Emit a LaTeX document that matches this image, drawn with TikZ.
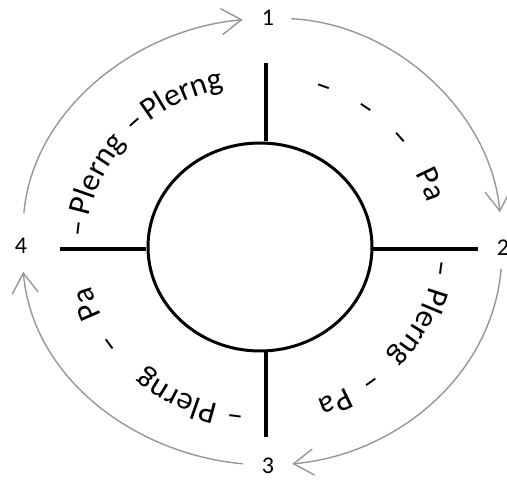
\documentclass[tikz,border=0pt]{standalone}
\usepackage{fontspec}
\setmainfont{Carlito}
\usetikzlibrary{arrows.meta, shapes.geometric, decorations.text}
\definecolor{cyclegray}{RGB}{150,150,150}
\newcommand{\ringfont}{\fontsize{32}{36}\selectfont}
\newcommand{\numfont}{\fontsize{24}{28}\selectfont}

\begin{document}
\begin{tikzpicture}[
  x=1pt, y=1pt,
  num/.style={inner sep=1pt, font=\numfont},
  hubstyle/.style={draw, ellipse, line width=3pt, minimum width=224, minimum height=208},
  spoke/.style={line width=3.5pt},
  cyclearrow/.style={draw=cyclegray, line width=1.4pt, -{Straight Barb[length=20pt, width=26pt]}},
  ringword/.style={decorate, decoration={text along path, text align=center, text/.expanded={|\noexpand\ringfont|#1}}}
]
\useasboundingbox (-262,-236) rectangle (245,248);

\node[hubstyle] (hub) at (-2,1) {};
\coordinate (ntip) at (4,185);
\coordinate (stip) at (4,-189);
\coordinate (wtip) at (-202,-1);
\coordinate (etip) at (216,-1);
\draw[spoke] (ntip |- hub.north) -- (ntip);
\draw[spoke] (stip |- hub.south) -- (stip);
\draw[spoke] (hub.west |- wtip) -- (wtip);
\draw[spoke] (hub.east |- etip) -- (etip);

\node[num] (one) at (6,230.5) {1};
\node[num] (two) at (241,0) {2};
\node[num] (three) at (6,-218) {3};
\node[num] (four) at (-241,2) {4};

\draw[cyclearrow, shorten <=24pt, shorten >=18pt] (four) to[out=85, in=185] (one);
\draw[cyclearrow, shorten <=16pt, shorten >=27pt] (one) to[out=-3, in=95] (two);
\draw[cyclearrow, shorten <=12pt, shorten >=17pt] (two) to[out=-95, in=5] (three);
\draw[cyclearrow, shorten <=18pt, shorten >=17pt] (three) to[out=175, in=-85] (four);

\foreach \a/\w in {174/–, 155/Plerng, 134/–, 116/Plerng, 69/–, 54/–, 39/–, 21/Pa,
                   -7/–, -28/Plerng, -52/–, -65/Pa, -98/–, -118/Plerng, -146/–, -161/Pa}
  \path[ringword=\w] (hub.center) ++(\a+30:174 and 162)
    arc[start angle=\a+30, end angle=\a-30, x radius=174, y radius=162];
\end{tikzpicture}
\end{document}
